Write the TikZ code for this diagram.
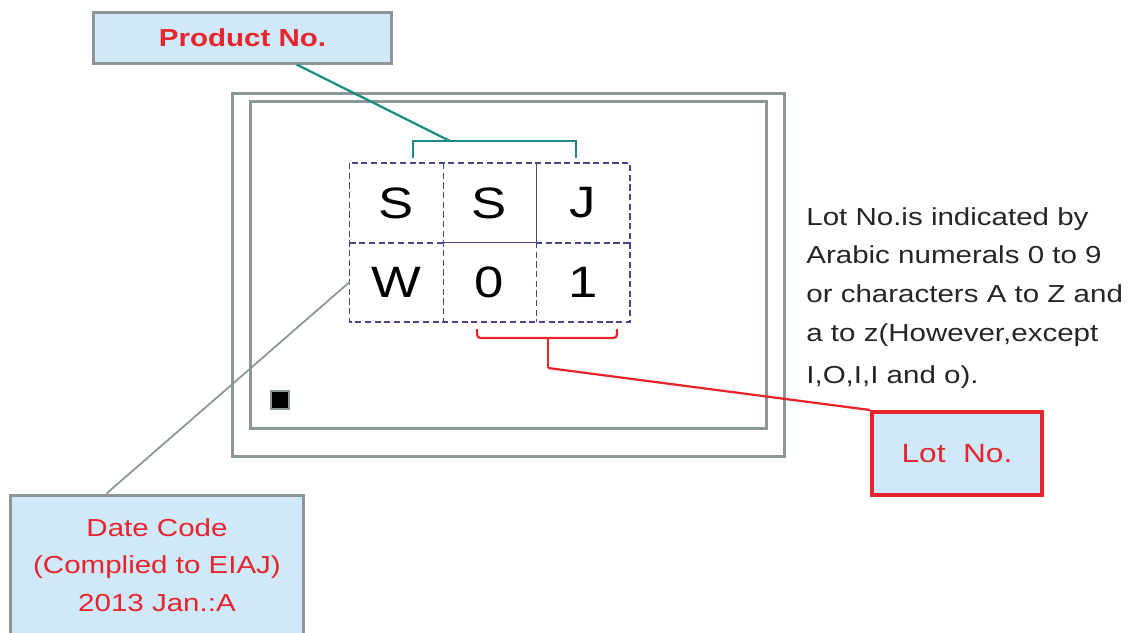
\documentclass[tikz,border=0pt]{standalone}
\usepackage{fontspec}
\setmainfont[FakeStretch=1.2]{Liberation Sans}
\usetikzlibrary{positioning, calc}

\definecolor{labelblue}{HTML}{CFE9F9}
\definecolor{framegray}{HTML}{8C9696}
\definecolor{markteal}{HTML}{1E8A84}
\definecolor{markred}{HTML}{E8242C}
\definecolor{cellblue}{HTML}{46468C}
\definecolor{notegray}{HTML}{262626}

\tikzset{
    label box/.style={draw=framegray, line width=0.06cm, fill=labelblue, text=markred, align=center, inner sep=0pt},
    cell/.style={minimum width=1.86cm, minimum height=1.58cm, inner sep=0pt, font=\fontsize{25}{25}\selectfont},
    cell line/.style={cellblue, dash pattern=on 3.5pt off 2pt, line width=0.9pt},
    frame/.style={framegray, line width=0.06cm},
}

\begin{document}
\begin{tikzpicture}[x=0.02cm, y=-0.02cm]
    \useasboundingbox (0,0) rectangle (1134,633);

    % package outline
    \draw[frame] (232,93) rectangle (784,456);
    \draw[frame] (250,101) rectangle (766,428);
    \draw[framegray, fill=black, line width=1pt] (271,391) rectangle (289,409);

    % marking cells
    \foreach \name/\px/\py/\ch in {
        c1/396.5/203/S, c2/489.5/203/S, c3/583/203/J,
        c4/396.5/282/W, c5/489.5/282/0, c6/583/282/1}
    {
        \node[cell] (\name) at (\px,\py) {\ch};
    }
    \draw[cell line] (c1.north west) rectangle (c6.south east);
    \draw[cell line] (c1.north east) -- (c4.south east);
    \draw[cell line] (c5.north east) -- (c5.south east);
    \draw[cell line] (c1.south west) -- (c1.south east);
    \draw[cell line] (c3.south west) -- (c3.south east);
    \draw[cellblue, line width=0.7pt] (c2.north east) -- (c2.south east) -- (c2.south west);

    % product no. bracket
    \coordinate (pnleft) at (413,158);
    \coordinate (pnright) at (576,158);
    \coordinate (pnmid) at (450,141);
    \draw[markteal, line width=0.045cm]
        (pnleft) -- ++(0,-17) -- ($(pnright)+(0,-17)$) -- (pnright);

    % lot no. bracket
    \coordinate (lotleft) at (477,329);
    \coordinate (lotright) at (617,329);
    \coordinate (lotmid) at (548,338);
    \coordinate (lotstem) at (548,368);
    \draw[markred, line width=0.045cm, rounded corners=2]
        (lotleft) -- ++(0,9) -- ($(lotright)+(0,9)$) -- (lotright);
    \draw[markred, line width=0.045cm] (lotmid) -- (lotstem);

    % labels
    \node[label box, minimum width=5.98cm, minimum height=1.02cm,
          font=\bfseries\fontsize{14}{16}\selectfont] (prodbox) at (242.5,37.5) {Product No.};
    \node[label box, minimum width=5.88cm, minimum height=2.8cm,
          font=\fontsize{14}{21.5}\selectfont] (datebox) at (157,565)
        {Date Code\\(Complied to EIAJ)\\2013 Jan.:A};
    \node[label box, draw=markred, line width=0.08cm, minimum width=3.4cm, minimum height=1.66cm,
          font=\fontsize{15}{18}\selectfont] (lotbox) at (957,453.5) {Lot\ \ No.};

    \node[anchor=north west, align=left, inner sep=0pt, text=notegray,
          font=\fontsize{14}{22}\selectfont] (lotnote) at (806,207)
        {Lot No.is indicated by\\Arabic numerals 0 to 9\\or characters A to Z and\\a to z(However,except\\[2pt]I,O,I,I and o).};

    % connectors
    \draw[markteal, line width=0.045cm] (prodbox) -- (pnmid);
    \coordinate (dateend) at ($(datebox.north west)+(98,0)$);
    \draw[framegray, line width=0.035cm] (dateend) -- (c4.west);
    \draw[markred, line width=0.045cm] (lotstem) -- (lotbox.north west);
\end{tikzpicture}
\end{document}
